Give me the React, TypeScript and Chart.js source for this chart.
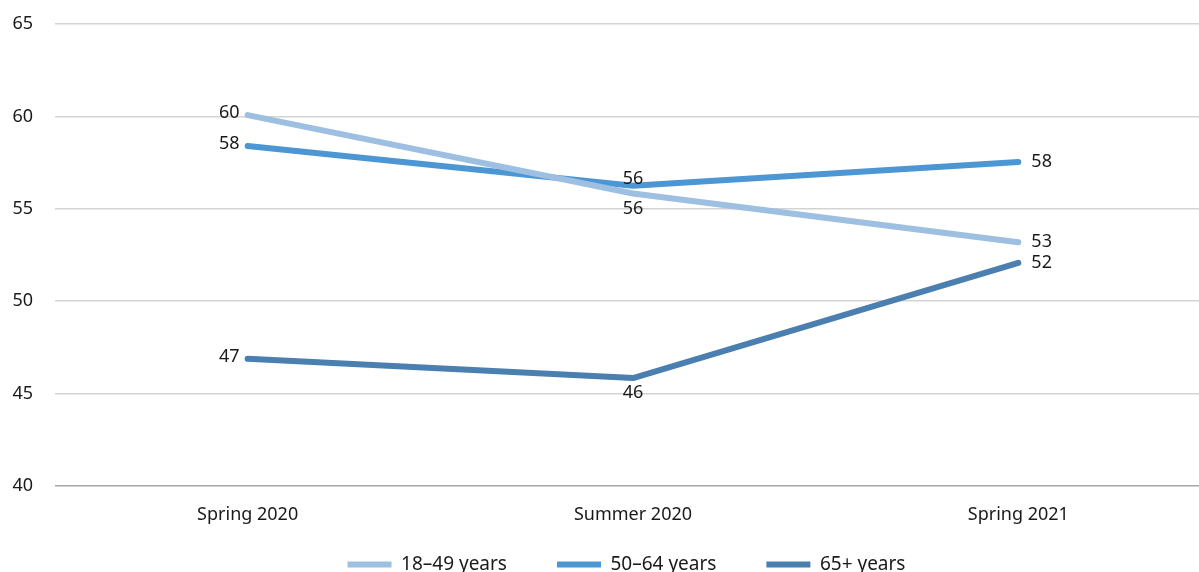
import React, { useEffect, useRef } from "react";
import { Chart, registerables } from "chart.js";

Chart.register(...registerables);

const categories = ["Spring 2020", "Summer 2020", "Spring 2021"];
const seriesNames = ["18\u201349 years", "50\u201364 years", "65+ years"];
const values18to49 = [60.07, 55.83, 53.19];
const values50to64 = [58.4, 56.25, 57.53];
const values65plus = [46.88, 45.84, 52.08];
const yTicks = [40, 45, 50, 55, 60, 65];

const colors = ["#9dbfe1", "#4c96d4", "#4a7fb0"];
// label placement per series per point
const labelPos = [
  ["left", "below", "right"],
  ["left", "above", "right"],
  ["left", "below", "right"],
];

const FONT = "'Noto Sans', sans-serif";
const FS = 18;
const LEGEND_FS = 19;
const LEGEND_SHIFT_Y = 39;
const LEGEND_SHIFT_X = 21;

const dataLabelPlugin = {
  id: "dataLabels",
  afterLayout(chart: any) {
    const l = chart.legend;
    if (l) {
      l.top -= LEGEND_SHIFT_Y;
      l.bottom -= LEGEND_SHIFT_Y;
      l.left += LEGEND_SHIFT_X;
      l.right += LEGEND_SHIFT_X;
    }
  },
  afterDatasetsDraw(chart: any) {
    const ctx = chart.ctx;
    ctx.save();
    ctx.font = `${FS}px ${FONT}`;
    ctx.fillStyle = "#1a1a1a";
    chart.data.datasets.forEach((ds: any, di: number) => {
      const meta = chart.getDatasetMeta(di);
      meta.data.forEach((pt: any, i: number) => {
        const v = ds.data[i];
        const txt = String(Math.round(v));
        const pos = labelPos[di][i];
        let x = pt.x;
        let y = pt.y;
        ctx.textBaseline = "middle";
        if (pos === "left") {
          ctx.textAlign = "right";
          x -= 8;
          y -= 2;
        } else if (pos === "right") {
          ctx.textAlign = "left";
          x += 13;
        } else if (pos === "above") {
          ctx.textAlign = "center";
          y -= 7;
        } else {
          ctx.textAlign = "center";
          y += 15;
        }
        ctx.fillText(txt, x, y);
      });
    });
    ctx.restore();
  },
};

export default function App() {
  const ref = useRef<HTMLCanvasElement>(null);
  useEffect(() => {
    if (!ref.current) return;
    const all = [values18to49, values50to64, values65plus];
    const chart = new Chart(ref.current, {
      type: "line",
      data: {
        labels: categories,
        datasets: all.map((d, i) => ({
          label: seriesNames[i],
          data: d,
          borderColor: colors[i],
          backgroundColor: colors[i],
          borderWidth: 6,
          borderCapStyle: "round",
          borderJoinStyle: "round",
          pointRadius: 0,
          tension: 0,
        })),
      },
      options: {
        animation: false,
        responsive: false,
        maintainAspectRatio: false,
        layout: { padding: { top: 24, right: 9, left: 0, bottom: 0 } },
        scales: {
          x: {
            offset: true,
            grid: { display: false, drawTicks: false },
            border: { display: false },
            ticks: { padding: 18, color: "#1a1a1a", font: { family: FONT, size: FS } },
            afterFit: (s: any) => {
              s.height = 58;
            },
          },
          y: {
            min: 40,
            max: 65,
            afterBuildTicks: (s: any) => {
              s.ticks = yTicks.map((v) => ({ value: v }));
            },
            grid: {
              drawTicks: false,
              lineWidth: 1.5,
              color: (c: any) => (c.tick && c.tick.value === 40 ? "#a6a6a6" : "#d3d3d3"),
            },
            border: { display: false },
            ticks: { padding: 22, color: "#1a1a1a", font: { family: FONT, size: FS } },
            afterFit: (s: any) => {
              s.width = 55;
              s.paddingTop = 0;
              s.paddingBottom = 0;
            },
          },
        },
        plugins: {
          legend: {
            position: "bottom",
            labels: {
              usePointStyle: true,
              pointStyle: "line",
              pointStyleWidth: 44,
              boxHeight: 6,
              padding: 50,
              color: "#1a1a1a",
              font: { family: FONT, size: LEGEND_FS },
            },
          },
          tooltip: { enabled: false },
        },
      },
      plugins: [dataLabelPlugin],
    } as any);
    return () => chart.destroy();
  }, []);
  return (
    <div style={{ position: "fixed", left: 0, top: 0, width: 1199, height: 572, overflow: "hidden", background: "#fff" }}>
      <canvas ref={ref} width={1220} height={623} style={{ display: "block" }} />
    </div>
  );
}
